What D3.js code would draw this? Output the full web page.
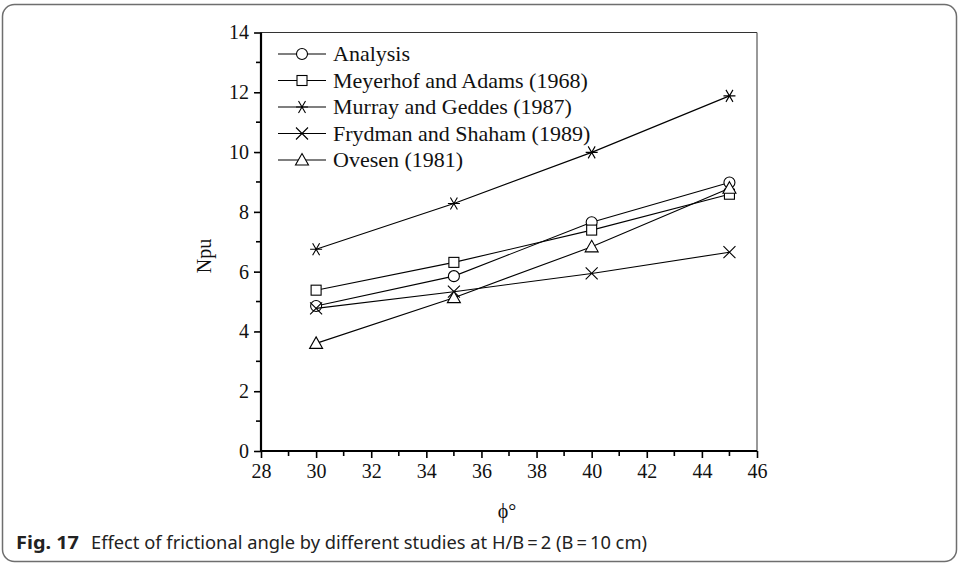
<!DOCTYPE html>
<html>
<head>
<meta charset="utf-8">
<script src="https://cdn.jsdelivr.net/npm/d3@7"></script>
<style>
  html, body { margin: 0; padding: 0; background: #fff; }
  svg { display: block; }
</style>
</head>
<body>
<svg id="chart" width="959" height="565"></svg>
<script>
// Friction angle (degrees) at which each study reports Npu
const phi = [30, 35, 40, 45];

// Breakout factor Npu per study
const analysis  = [4.85, 5.85, 7.65, 8.98];
const meyerhof  = [5.38, 6.31, 7.39, 8.59];
const murray    = [6.75, 8.28, 9.99, 11.88];
const frydman   = [4.77, 5.33, 5.94, 6.65];
const ovesen    = [3.60, 5.13, 6.83, 8.79];

const seriesNames = [
  "Analysis",
  "Meyerhof and Adams (1968)",
  "Murray and Geddes (1987)",
  "Frydman and Shaham (1989)",
  "Ovesen (1981)"
];
const seriesValues = [analysis, meyerhof, murray, frydman, ovesen];
const seriesMarkers = ["circle", "square", "asterisk", "cross", "triangle"];

const xTicks = [28, 30, 32, 34, 36, 38, 40, 42, 44, 46];
const yTicks = [0, 2, 4, 6, 8, 10, 12, 14];

const svg = d3.select("#chart");
const serif = "'Liberation Serif', 'Times New Roman', serif";

// outer rounded panel
svg.append("rect")
  .attr("x", 2.5).attr("y", 4.5)
  .attr("width", 954).attr("height", 557)
  .attr("rx", 12).attr("ry", 12)
  .attr("fill", "none").attr("stroke", "#6e6e6e").attr("stroke-width", 1.5);

const x = d3.scaleLinear().domain([28, 46]).range([261, 757]);
const y = d3.scaleLinear().domain([0, 14]).range([451, 32.5]);

// top and right frame lines
svg.append("line")
  .attr("x1", x(28)).attr("x2", x(46)).attr("y1", y(14)).attr("y2", y(14))
  .attr("stroke", "#333").attr("stroke-width", 1.2);
svg.append("line")
  .attr("x1", x(46)).attr("x2", x(46)).attr("y1", y(14)).attr("y2", y(0))
  .attr("stroke", "#555").attr("stroke-width", 1.2);

// x axis with minor ticks
const xMinor = d3.range(29, 46, 2);
const xAxis = svg.append("g").attr("transform", `translate(0,${y(0)})`)
  .call(d3.axisBottom(x).tickValues(xTicks).tickSize(7).tickPadding(6).tickFormat(d3.format("d")));
svg.append("g").attr("transform", `translate(0,${y(0)})`)
  .selectAll("line").data(xMinor).join("line")
  .attr("x1", d => x(d)).attr("x2", d => x(d)).attr("y1", 0).attr("y2", 5)
  .attr("stroke", "#000").attr("stroke-width", 1.6);

// y axis with minor ticks
const yAxis = svg.append("g").attr("transform", `translate(${x(28)},0)`)
  .call(d3.axisLeft(y).tickValues(yTicks).tickSize(7).tickPadding(5).tickFormat(d3.format("d")));
const yMinor = d3.range(1, 14, 2);
svg.append("g").attr("transform", `translate(${x(28)},0)`)
  .selectAll("line").data(yMinor).join("line")
  .attr("x1", -5).attr("x2", 0).attr("y1", d => y(d)).attr("y2", d => y(d))
  .attr("stroke", "#000").attr("stroke-width", 1.6);

[xAxis, yAxis].forEach(g => {
  g.attr("font-family", null).attr("font-size", null);
  g.select(".domain").attr("stroke", "#000").attr("stroke-width", 2.2);
  g.selectAll(".tick line").attr("stroke", "#000").attr("stroke-width", 1.6);
  g.selectAll(".tick text")
    .style("font-family", serif).style("font-size", "20px").attr("fill", "#111");
});
xAxis.select(".domain").attr("d", `M${x(28)},0H${x(46)}`);
yAxis.select(".domain").attr("d", `M0,${y(0)}V${y(14)}`);

// axis titles
svg.append("text")
  .attr("transform", "translate(211,256) rotate(-90)")
  .attr("text-anchor", "middle")
  .style("font-family", serif).style("font-size", "20px").attr("fill", "#111")
  .text("Npu");
svg.append("text")
  .attr("x", 507).attr("y", 518)
  .attr("text-anchor", "middle")
  .style("font-family", "'Liberation Serif', 'DejaVu Serif', serif").style("font-size", "20px").attr("fill", "#111")
  .text("\u03D5\u00B0");

// marker shapes
function drawMarker(g, type, cx, cy) {
  let el;
  if (type === "circle") {
    el = g.append("circle").attr("cx", cx).attr("cy", cy).attr("r", 5.5).attr("fill", "#fff");
  } else if (type === "square") {
    el = g.append("rect").attr("x", cx - 5).attr("y", cy - 5).attr("width", 10).attr("height", 10).attr("fill", "#fff");
  } else if (type === "triangle") {
    el = g.append("path").attr("d", `M${cx},${cy - 6.5}L${cx + 6.5},${cy + 5}L${cx - 6.5},${cy + 5}Z`).attr("fill", "#fff");
  } else if (type === "cross") {
    el = g.append("path").attr("d", `M${cx - 6},${cy - 6}L${cx + 6},${cy + 6}M${cx - 6},${cy + 6}L${cx + 6},${cy - 6}`).attr("fill", "none");
  } else {
    el = g.append("path").attr("d",
      `M${cx - 6},${cy}L${cx + 6},${cy}` +
      `M${cx - 3.5},${cy - 6}L${cx + 3.5},${cy + 6}` +
      `M${cx + 3.5},${cy - 6}L${cx - 3.5},${cy + 6}`).attr("fill", "none");
  }
  el.attr("stroke", "#000").attr("stroke-width", 1.1);
}

const line = d3.line().x(d => x(d[0])).y(d => y(d[1]));
const plot = svg.append("g");
seriesValues.forEach((vals, i) => {
  const pts = phi.map((p, j) => [p, vals[j]]);
  plot.append("path").datum(pts).attr("d", line)
    .attr("fill", "none").attr("stroke", "#000").attr("stroke-width", 1.1);
  pts.forEach(p => drawMarker(plot, seriesMarkers[i], x(p[0]), y(p[1])));
});

// legend
const legend = svg.append("g");
seriesNames.forEach((name, i) => {
  const ly = 54 + i * 26.5;
  legend.append("line").attr("x1", 278).attr("x2", 326).attr("y1", ly).attr("y2", ly)
    .attr("stroke", "#000").attr("stroke-width", 1.1);
  drawMarker(legend, seriesMarkers[i], 302, ly);
  legend.append("text").attr("x", 333).attr("y", ly + 7)
    .style("font-family", serif).style("font-size", "22px").attr("fill", "#111")
    .text(name);
});

// caption
svg.append("text").attr("x", 16).attr("y", 549)
  .style("font-family", "'Noto Sans', sans-serif").style("font-size", "18px").attr("font-weight", "bold")
  .attr("fill", "#222").attr("textLength", 63).attr("lengthAdjust", "spacingAndGlyphs")
  .text("Fig. 17");
svg.append("text").attr("x", 91).attr("y", 549)
  .style("font-family", "'Noto Sans', sans-serif").style("font-size", "18px")
  .attr("fill", "#222").attr("textLength", 556).attr("lengthAdjust", "spacingAndGlyphs")
  .text("Effect of frictional angle by different studies at H/B\u2009=\u20092 (B\u2009=\u200910 cm)");
</script>
</body>
</html>
